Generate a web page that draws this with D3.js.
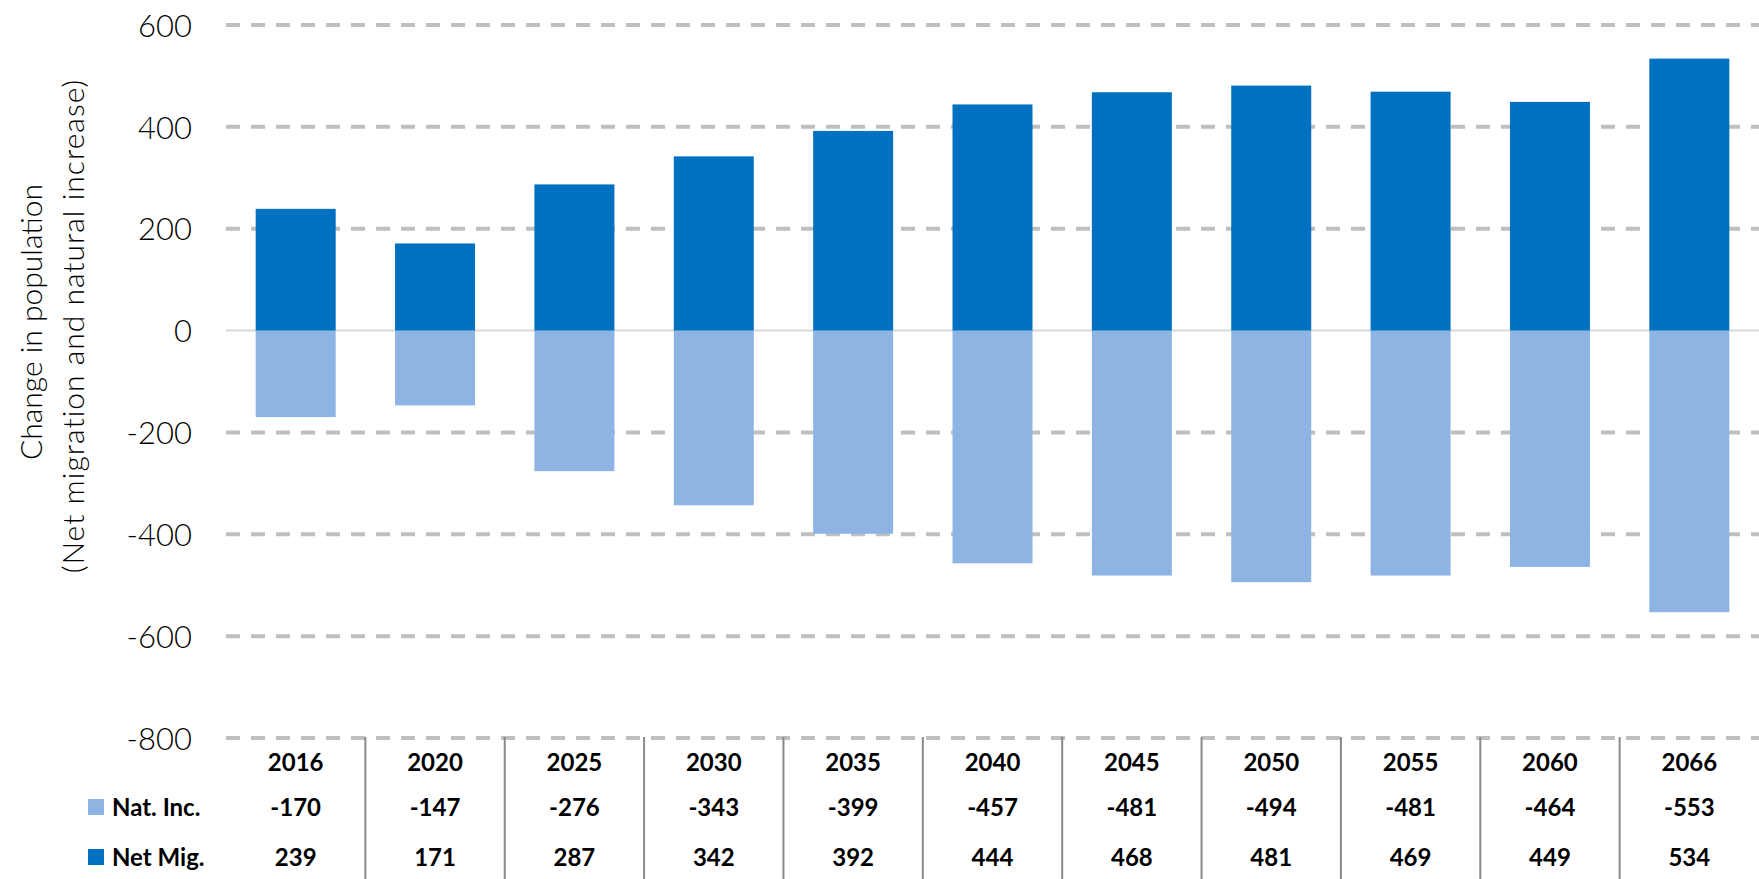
<!DOCTYPE html>
<html>
<head>
<meta charset="utf-8">
<script src="https://cdn.jsdelivr.net/npm/d3@7"></script>
<style>
  html, body { margin: 0; padding: 0; background: #fff; }
  svg { display: block; font-family: Lato, "Open Sans", sans-serif; }
</style>
</head>
<body>
<svg id="svg" width="1759" height="879"></svg>
<script>
const years = ["2016", "2020", "2025", "2030", "2035", "2040", "2045", "2050", "2055", "2060", "2066"];
const natInc = [-170, -147, -276, -343, -399, -457, -481, -494, -481, -464, -553];
const netMig = [239, 171, 287, 342, 392, 444, 468, 481, 469, 449, 534];
const yTicks = [-800, -600, -400, -200, 0, 200, 400, 600];

const series = [
	{ name: "Nat. Inc.", values: natInc, color: "#8EB4E3" },
	{ name: "Net Mig.", values: netMig, color: "#0070C0" },
];

const svg = d3.select("#svg");

const x = d3.scaleBand().domain(years).range([226, 1759]).paddingInner(0.426).paddingOuter(0.213);
const y = d3.scaleLinear().domain([-800, 600]).range([738, 25]);

// grid lines
svg.append("g")
	.selectAll("line")
	.data(yTicks)
	.join("line")
	.attr("x1", 226)
	.attr("x2", 1759)
	.attr("y1", (d) => y(d))
	.attr("y2", (d) => y(d))
	.attr("stroke", (d) => (d == 0 ? "#D9D9D9" : "#BFBFBF"))
	.attr("stroke-width", (d) => (d == 0 ? 2 : 4))
	.attr("stroke-dasharray", (d) => (d == 0 ? null : "14,11"));

// bars
for (const s of series) {
	svg.append("g")
		.selectAll("rect")
		.data(s.values)
		.join("rect")
		.attr("x", (d, i) => x(years[i]))
		.attr("width", x.bandwidth())
		.attr("y", (d) => y(Math.max(0, d)))
		.attr("height", (d) => Math.abs(y(d) - y(0)))
		.attr("fill", s.color);
}

// y axis labels
const yAxis = svg.append("g")
	.attr("transform", "translate(192,0)")
	.call(d3.axisLeft(y).tickValues(yTicks).tickSize(0).tickPadding(0).tickFormat((d) => String(d)));
yAxis.select(".domain").remove();
yAxis.selectAll("text")
	.attr("font-family", "Lato, sans-serif")
	.attr("font-size", 31)
	.attr("font-weight", 300)
	.attr("fill", "#000")
	.attr("dy", "0.36em");

// axis title
const title = svg.append("g").attr("font-size", 30).attr("font-weight", 300).attr("fill", "#000").attr("text-anchor", "middle");
title.append("text").attr("transform", "translate(42,322) rotate(-90)").text("Change in population");
title.append("text").attr("transform", "translate(84,326) rotate(-90)").attr("letter-spacing", 1).text("(Net migration and natural increase)");

// data table
const step = x.step();
svg.append("g")
	.selectAll("line")
	.data(years.slice(1))
	.join("line")
	.attr("x1", (d) => x(d) - (step - x.bandwidth()) / 2)
	.attr("x2", (d) => x(d) - (step - x.bandwidth()) / 2)
	.attr("y1", 737)
	.attr("y2", 879)
	.attr("stroke", "#898989")
	.attr("stroke-width", 2);

const table = svg.append("g").attr("font-size", 24).attr("font-weight", "bold").attr("fill", "#000");
table.selectAll(".year")
	.data(years)
	.join("text")
	.attr("class", "year")
	.attr("x", (d) => x(d) + x.bandwidth() / 2)
	.attr("y", 771)
	.attr("text-anchor", "middle")
	.text((d) => d);

const rowY = [816, 866];
series.forEach((s, k) => {
	table.selectAll(`.row${k}`)
		.data(s.values)
		.join("text")
		.attr("class", `row${k}`)
		.attr("x", (d, i) => x(years[i]) + x.bandwidth() / 2)
		.attr("y", rowY[k])
		.attr("text-anchor", "middle")
		.text((d) => d);
	svg.append("rect")
		.attr("x", 88)
		.attr("y", rowY[k] - 17)
		.attr("width", 16)
		.attr("height", 16)
		.attr("fill", s.color);
	table.append("text")
		.attr("x", 112)
		.attr("y", rowY[k])
		.text(s.name);
});
</script>
</body>
</html>
